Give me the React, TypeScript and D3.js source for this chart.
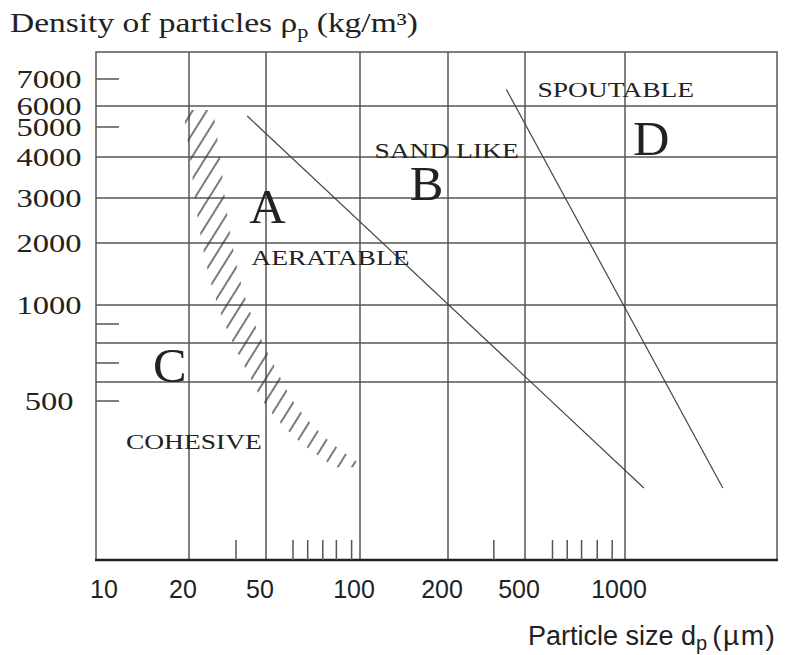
import { useEffect, useRef } from "react";
import * as d3 from "d3";

// particle size axis, µm
const sizeTicks = [10, 20, 50, 100, 200, 500, 1000];
const sizeGrid = [20, 50, 100, 200, 500, 1000];
const sizeMinorTicks = [35, 61, 68, 76, 84, 94, 345, 605, 670, 740, 825, 915];

// particle density axis, kg/m3
const densityLabels = [7000, 6000, 5000, 4000, 3000, 2000, 1000, 500];
const densityGrid = [6000, 4000, 3000, 2000, 1000, 800, 600];
const densityMinorTicks = [7000, 5000, 900, 700, 500];

// group boundaries as [dp, rho]
const boundaryAB: [number, number][] = [
  [40, 5500],
  [1140, 217],
];
const boundaryBD: [number, number][] = [
  [400, 6600],
  [1970, 217],
];
// centre of the hatched A/C band
const boundaryAC: [number, number][] = [
  [22.3, 5800],
  [24.2, 4000],
  [25.7, 2950],
  [27.9, 2000],
  [31.8, 1180],
  [37.6, 870],
  [48.2, 645],
  [56.3, 472],
  [70.7, 344],
  [92.9, 265],
];

const groupLetters = [
  { text: "A", dp: 41, rho: 2400 },
  { text: "B", dp: 148, rho: 2950 },
  { text: "C", dp: 15.3, rho: 600 },
  { text: "D", dp: 1057, rho: 4060 },
];
const groupNames = [
  { text: "AERATABLE", dp: 42, rho: 1560 },
  { text: "SAND LIKE", dp: 112, rho: 3980 },
  { text: "SPOUTABLE", dp: 545, rho: 6300 },
  { text: "COHESIVE", dp: 12.5, rho: 315 },
];

const SERIF = "'Liberation Serif', 'Times New Roman', serif";
const SANS = "'Liberation Sans', Arial, sans-serif";

const App = () => {
  const svgRef = useRef<SVGSVGElement | null>(null);

  useEffect(() => {
    if (!svgRef.current) return;
    const svg = d3.select(svgRef.current);
    svg.selectAll("*").remove();

    const left = 96;
    const right = 777;
    const top = 52;
    const bottom = 560;

    // the printed axes are hand drawn, so the scales are piecewise (log between knots)
    const x = d3
      .scaleLog()
      .domain(sizeTicks)
      .range([left, 189, 266, 360, 448, 525, 625]);

    const densityKnots = d3.sort(
      Array.from(new Set([...densityLabels, ...densityGrid, ...densityMinorTicks])),
      d3.descending
    );
    const y = d3
      .scaleLog()
      .domain(densityKnots)
      .range([79, 106, 127, 157, 198, 243, 305, 324, 343, 363, 382, 401]);

    const defs = svg.append("defs");
    const pat = defs
      .append("pattern")
      .attr("id", "hatch")
      .attr("patternUnits", "userSpaceOnUse")
      .attr("width", 12)
      .attr("height", 12)
      .attr("patternTransform", "rotate(32)");
    pat
      .append("line")
      .attr("x1", 6)
      .attr("x2", 6)
      .attr("y1", -1)
      .attr("y2", 13)
      .attr("stroke", "#333")
      .attr("stroke-width", 1.3);

    const gridColor = "#555";

    // grid
    svg
      .append("g")
      .selectAll("line")
      .data(densityGrid)
      .join("line")
      .attr("x1", left)
      .attr("x2", right)
      .attr("y1", (d) => y(d))
      .attr("y2", (d) => y(d))
      .attr("stroke", gridColor)
      .attr("stroke-width", 1.5);

    svg
      .append("g")
      .selectAll("line")
      .data(sizeGrid)
      .join("line")
      .attr("x1", (d) => x(d))
      .attr("x2", (d) => x(d))
      .attr("y1", top)
      .attr("y2", bottom)
      .attr("stroke", gridColor)
      .attr("stroke-width", 1.5);

    // frame
    svg
      .append("path")
      .attr("d", `M${left},${bottom}V${top}H${right}V${bottom}`)
      .attr("fill", "none")
      .attr("stroke", gridColor)
      .attr("stroke-width", 1.5);
    svg
      .append("line")
      .attr("x1", left - 1)
      .attr("x2", right + 1)
      .attr("y1", bottom)
      .attr("y2", bottom)
      .attr("stroke", "#222")
      .attr("stroke-width", 2.5);

    // minor ticks
    svg
      .append("g")
      .selectAll("line")
      .data(densityMinorTicks)
      .join("line")
      .attr("x1", left)
      .attr("x2", left + 23)
      .attr("y1", (d) => y(d))
      .attr("y2", (d) => y(d))
      .attr("stroke", gridColor)
      .attr("stroke-width", 1.5);

    svg
      .append("g")
      .selectAll("line")
      .data(sizeMinorTicks)
      .join("line")
      .attr("x1", (d) => x(d))
      .attr("x2", (d) => x(d))
      .attr("y1", bottom - 20)
      .attr("y2", bottom)
      .attr("stroke", gridColor)
      .attr("stroke-width", 1.5);

    // hatched A/C band
    const band = d3
      .area<[number, number]>()
      .y((d) => y(d[1]))
      .x0((d) => x(d[0]) - 15)
      .x1((d) => x(d[0]) + 15)
      .curve(d3.curveCatmullRom);
    svg.append("path").attr("d", band(boundaryAC)).attr("fill", "url(#hatch)");

    // A/B and B/D boundaries
    const line = d3
      .line<[number, number]>()
      .x((d) => x(d[0]))
      .y((d) => y(d[1]));
    [boundaryAB, boundaryBD].forEach((b) => {
      svg
        .append("path")
        .attr("d", line(b))
        .attr("fill", "none")
        .attr("stroke", "#444")
        .attr("stroke-width", 1.2);
    });

    const serifText = (
      str: string,
      px: number,
      py: number,
      size: number,
      sx: number,
      anchor = "start"
    ) =>
      svg
        .append("g")
        .attr("transform", `translate(${px},${py}) scale(${sx},1)`)
        .append("text")
        .attr("text-anchor", anchor)
        .style("font-family", SERIF)
        .style("font-size", `${size}px`)
        .attr("fill", "#222")
        .text(str);

    groupLetters.forEach((d) => serifText(d.text, x(d.dp), y(d.rho), 48, 1.05));
    groupNames.forEach((d) => serifText(d.text, x(d.dp), y(d.rho), 22, 1.25));

    // y tick labels
    densityLabels.forEach((v) => serifText(String(v), 49, y(v) + 9, 26, 1.25, "middle"));

    // x tick labels
    svg
      .append("g")
      .selectAll("text")
      .data(sizeTicks)
      .join("text")
      .attr("x", (d, i) => x(d) + (i === 0 ? 8 : -6))
      .attr("y", 598)
      .attr("text-anchor", "middle")
      .style("font-family", SANS)
      .style("font-size", "25px")
      .attr("fill", "#222")
      .text((d) => d);

    // y title
    const title = svg
      .append("g")
      .attr("transform", "translate(10,32) scale(1.24,1)")
      .append("text")
      .style("font-family", SERIF)
      .style("font-size", "27px")
      .attr("fill", "#222");
    title.append("tspan").text("Density of particles ρ");
    title.append("tspan").attr("font-size", 18).attr("dy", 6).text("p");
    title.append("tspan").attr("dy", -6).text(" (kg/m³)");

    // x title
    const xt = svg
      .append("text")
      .attr("x", 528)
      .attr("y", 645)
      .style("font-family", SANS)
      .style("font-size", "27px")
      .attr("fill", "#222");
    xt.append("tspan").text("Particle size d");
    xt.append("tspan").attr("font-size", 20).attr("dy", 5).text("p");
    xt.append("tspan")
      .attr("dy", -5)
      .attr("dx", 5)
      .attr("font-size", 28)
      .attr("letter-spacing", 1.5)
      .text("(µm)");
  }, []);

  return (
    <div style={{ position: "absolute", left: 0, top: 0 }}>
      <svg ref={svgRef} width={786} height={655} style={{ display: "block", background: "#fff" }} />
    </div>
  );
};

export default App;
